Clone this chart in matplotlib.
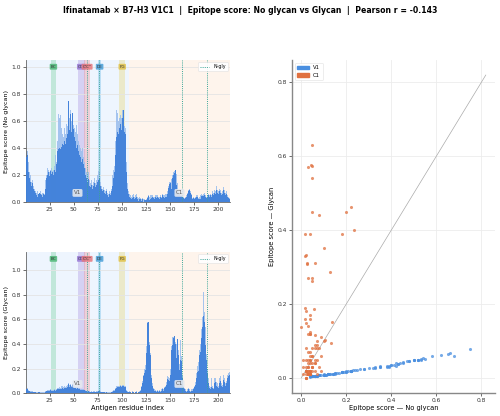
import numpy as np
import matplotlib
matplotlib.use("Agg")
import matplotlib.pyplot as plt
from matplotlib.patches import Patch

# ---------------- data ----------------
residues = list(range(1, 213))

# No glycan: per-residue score (dark) and peak score (light)
noglyc_score = [
    0.33, 0.35, 0.22, 0.18, 0.15, 0.12, 0.14, 0.10, 0.08, 0.07,
    0.05, 0.04, 0.06, 0.05, 0.07, 0.06, 0.05, 0.04, 0.06, 0.05,
    0.10, 0.18, 0.20, 0.22, 0.19, 0.23, 0.21, 0.22, 0.20, 0.24,
    0.22, 0.28, 0.38, 0.39, 0.40, 0.39, 0.41, 0.43, 0.42, 0.44,
    0.45, 0.43, 0.47, 0.50, 0.75, 0.53, 0.65, 0.52, 0.66, 0.54,
    0.48, 0.45, 0.40, 0.42, 0.38, 0.35, 0.33, 0.30, 0.32, 0.28,
    0.25, 0.20, 0.18, 0.15, 0.17, 0.12, 0.14, 0.11, 0.13, 0.10,
    0.12, 0.14, 0.11, 0.13, 0.15, 0.16, 0.18, 0.12, 0.10, 0.08,
    0.09, 0.07, 0.06, 0.08, 0.05, 0.04, 0.06, 0.05, 0.08, 0.12,
    0.18, 0.22, 0.26, 0.35, 0.48, 0.52, 0.50, 0.55, 0.58, 0.53,
    0.62, 0.68, 0.52, 0.50, 0.22, 0.10, 0.06, 0.04, 0.03, 0.02,
    0.03, 0.04, 0.02, 0.03, 0.04, 0.02, 0.01, 0.02, 0.02, 0.01,
    0.01, 0.02, 0.00, 0.015, 0.015, 0.015, 0.028, 0.043, 0.015, 0.025,
    0.03, 0.04, 0.03, 0.02, 0.04, 0.03, 0.04, 0.03, 0.02, 0.04,
    0.03, 0.05, 0.04, 0.03, 0.04, 0.05, 0.04, 0.06, 0.105, 0.133,
    0.138, 0.099, 0.18, 0.20, 0.219, 0.234, 0.126, 0.08, 0.06, 0.058,
    0.047, 0.046, 0.04, 0.03, 0.02, 0.03, 0.04, 0.06, 0.08, 0.09,
    0.07, 0.05, 0.03, 0.02, 0.03, 0.02, 0.03, 0.04, 0.04, 0.02,
    0.025, 0.02, 0.046, 0.046, 0.047, 0.05, 0.04, 0.03, 0.04, 0.05,
    0.04, 0.05, 0.04, 0.06, 0.05, 0.07, 0.06, 0.09, 0.10, 0.07,
    0.06, 0.08, 0.07, 0.05, 0.06, 0.09, 0.07, 0.05, 0.06, 0.04,
    0.03, 0.02,
]
noglyc_peak = [
    0.38, 0.38, 0.30, 0.22, 0.20, 0.15, 0.16, 0.12, 0.10, 0.08,
    0.07, 0.08, 0.06, 0.09, 0.07, 0.08, 0.06, 0.07, 0.07, 0.06,
    0.16, 0.20, 0.25, 0.24, 0.22, 0.24, 0.25, 0.23, 0.24, 0.27,
    0.35, 0.30, 0.45, 0.65, 0.62, 0.64, 0.55, 0.50, 0.48, 0.52,
    0.55, 0.50, 0.58, 0.56, 0.75, 0.62, 0.68, 0.60, 0.66, 0.57,
    0.55, 0.52, 0.57, 0.50, 0.45, 0.42, 0.40, 0.38, 0.40, 0.33,
    0.30, 0.25, 0.22, 0.20, 0.22, 0.16, 0.18, 0.14, 0.16, 0.13,
    0.15, 0.18, 0.14, 0.16, 0.20, 0.23, 0.22, 0.15, 0.12, 0.10,
    0.11, 0.09, 0.08, 0.10, 0.07, 0.06, 0.08, 0.07, 0.10, 0.20,
    0.24, 0.27, 0.30, 0.45, 0.68, 0.66, 0.60, 0.62, 0.64, 0.62,
    0.68, 0.68, 0.56, 0.55, 0.30, 0.14, 0.08, 0.06, 0.05, 0.04,
    0.05, 0.06, 0.04, 0.05, 0.06, 0.04, 0.03, 0.04, 0.03, 0.02,
    0.02, 0.03, 0.02, 0.02, 0.00, 0.02, 0.04, 0.05, 0.04, 0.05,
    0.05, 0.05, 0.04, 0.04, 0.05, 0.05, 0.05, 0.04, 0.04, 0.05,
    0.04, 0.06, 0.05, 0.05, 0.06, 0.06, 0.06, 0.08, 0.12, 0.15,
    0.15, 0.17, 0.20, 0.22, 0.23, 0.24, 0.21, 0.14, 0.08, 0.06,
    0.05, 0.05, 0.05, 0.04, 0.03, 0.04, 0.05, 0.07, 0.09, 0.10,
    0.08, 0.06, 0.04, 0.03, 0.04, 0.03, 0.04, 0.05, 0.05, 0.03,
    0.04, 0.05, 0.06, 0.05, 0.06, 0.07, 0.05, 0.04, 0.05, 0.06,
    0.05, 0.06, 0.05, 0.08, 0.07, 0.09, 0.08, 0.12, 0.13, 0.09,
    0.08, 0.10, 0.09, 0.07, 0.08, 0.11, 0.09, 0.07, 0.08, 0.05,
    0.04, 0.03,
]
# Glycan
glyc_score = [
    0.030, 0.033, 0.020, 0.015, 0.013, 0.010, 0.012, 0.008, 0.007, 0.006,
    0.005, 0.004, 0.006, 0.005, 0.006, 0.005, 0.004, 0.004, 0.005, 0.005,
    0.010, 0.015, 0.018, 0.020, 0.017, 0.022, 0.018, 0.020, 0.016, 0.022,
    0.020, 0.024, 0.030, 0.032, 0.034, 0.030, 0.036, 0.038, 0.033, 0.040,
    0.042, 0.038, 0.045, 0.050, 0.078, 0.052, 0.066, 0.050, 0.068, 0.053,
    0.045, 0.040, 0.035, 0.040, 0.033, 0.030, 0.028, 0.026, 0.028, 0.024,
    0.022, 0.017, 0.015, 0.012, 0.014, 0.010, 0.012, 0.009, 0.011, 0.008,
    0.010, 0.012, 0.009, 0.011, 0.013, 0.014, 0.016, 0.010, 0.008, 0.007,
    0.008, 0.006, 0.005, 0.007, 0.004, 0.003, 0.005, 0.004, 0.007, 0.010,
    0.016, 0.020, 0.023, 0.030, 0.045, 0.050, 0.048, 0.052, 0.060, 0.050,
    0.062, 0.060, 0.050, 0.048, 0.020, 0.009, 0.006, 0.010, 0.010, 0.000,
    0.010, 0.010, 0.000, 0.010, 0.010, 0.000, 0.010, 0.010, 0.020, 0.030,
    0.050, 0.080, 0.137, 0.160, 0.189, 0.330, 0.572, 0.577, 0.389, 0.309,
    0.120, 0.060, 0.030, 0.020, 0.020, 0.010, 0.020, 0.010, 0.020, 0.010,
    0.020, 0.030, 0.020, 0.040, 0.050, 0.040, 0.070, 0.115, 0.103, 0.095,
    0.151, 0.352, 0.390, 0.450, 0.464, 0.400, 0.288, 0.440, 0.310, 0.186,
    0.270, 0.262, 0.120, 0.050, 0.030, 0.020, 0.010, 0.020, 0.030, 0.020,
    0.010, 0.020, 0.010, 0.020, 0.030, 0.050, 0.070, 0.124, 0.170, 0.180,
    0.310, 0.334, 0.450, 0.540, 0.630, 0.575, 0.390, 0.270, 0.160, 0.080,
    0.040, 0.030, 0.050, 0.040, 0.030, 0.080, 0.090, 0.060, 0.100, 0.050,
    0.040, 0.080, 0.100, 0.060, 0.050, 0.110, 0.090, 0.060, 0.080, 0.120,
    0.140, 0.150,
]
glyc_peak = [
    0.035, 0.040, 0.025, 0.020, 0.018, 0.015, 0.016, 0.012, 0.010, 0.010,
    0.008, 0.008, 0.010, 0.008, 0.010, 0.008, 0.008, 0.007, 0.008, 0.008,
    0.015, 0.020, 0.025, 0.028, 0.022, 0.030, 0.025, 0.026, 0.022, 0.030,
    0.028, 0.032, 0.040, 0.045, 0.050, 0.042, 0.055, 0.060, 0.048, 0.058,
    0.060, 0.050, 0.062, 0.065, 0.080, 0.065, 0.072, 0.062, 0.075, 0.065,
    0.058, 0.050, 0.046, 0.050, 0.042, 0.040, 0.036, 0.034, 0.036, 0.030,
    0.028, 0.022, 0.020, 0.018, 0.020, 0.015, 0.016, 0.013, 0.015, 0.012,
    0.014, 0.016, 0.013, 0.016, 0.018, 0.020, 0.022, 0.015, 0.012, 0.010,
    0.012, 0.010, 0.008, 0.010, 0.007, 0.006, 0.008, 0.007, 0.010, 0.015,
    0.022, 0.028, 0.032, 0.040, 0.055, 0.060, 0.058, 0.062, 0.068, 0.060,
    0.070, 0.068, 0.060, 0.058, 0.028, 0.014, 0.010, 0.015, 0.012, 0.005,
    0.015, 0.012, 0.005, 0.012, 0.015, 0.005, 0.012, 0.015, 0.025, 0.040,
    0.060, 0.100, 0.150, 0.200, 0.230, 0.380, 0.575, 0.577, 0.420, 0.330,
    0.150, 0.080, 0.040, 0.030, 0.025, 0.015, 0.025, 0.015, 0.025, 0.015,
    0.030, 0.040, 0.030, 0.050, 0.060, 0.050, 0.090, 0.140, 0.130, 0.120,
    0.200, 0.380, 0.460, 0.460, 0.440, 0.420, 0.400, 0.440, 0.350, 0.240,
    0.430, 0.300, 0.150, 0.060, 0.040, 0.030, 0.015, 0.030, 0.040, 0.030,
    0.015, 0.030, 0.015, 0.030, 0.040, 0.060, 0.090, 0.160, 0.220, 0.250,
    0.350, 0.400, 0.520, 0.620, 0.820, 0.660, 0.540, 0.320, 0.200, 0.120,
    0.060, 0.050, 0.120, 0.060, 0.040, 0.120, 0.120, 0.090, 0.130, 0.080,
    0.060, 0.120, 0.140, 0.080, 0.070, 0.150, 0.120, 0.080, 0.100, 0.150,
    0.160, 0.170,
]

region_names = ["V1", "C1"]
region_ranges = [(1, 107), (108, 212)]
loop_names = ["BC", "CC'", "C'C''", "DE", "FG"]
loop_ranges = [(27, 31), (55, 61), (61, 67), (76, 78), (98, 103)]
nglyc_sites = [64, 76, 163, 189]

title = ("Ifinatamab \u00d7 B7-H3 V1C1  |  Epitope score: No glycan vs Glycan  |  "
         "Pearson r = -0.143")

# ---------------- style ----------------
dark_blue = "#3f80da"
light_blue = "#9cbfee"
region_bg = ["#eef5fe", "#fef4ec"]
loop_colors = ["#6fcf97", "#a98ee0", "#ec8a8f", "#62b6e6", "#e8d36a"]
loop_text_bg = ["#4fb878", "#9a7ad6", "#e5787e", "#4a9fd8", "#e0c24a"]
ngly_color = "#3aa597"
scatter_cols = ["#4a8fe0", "#e0703f"]

plt.rcParams['font.family'] = ['DejaVu Sans']

fig = plt.figure(figsize=(5.0, 4.16), dpi=100)
fig.suptitle(title, fontsize=5.6, fontweight='bold', y=0.985)

ax_top = fig.add_axes([0.052, 0.514, 0.408, 0.342])
ax_bot = fig.add_axes([0.052, 0.055, 0.408, 0.339])
ax_sc = fig.add_axes([0.584, 0.055, 0.406, 0.801])

x = np.array(residues)


def draw_bars(ax, score, peak, ylabel):
    score = np.array(score)
    peak = np.array(peak)
    ymax = max(peak.max(), score.max()) * 1.4
    for (a, b), c in zip(region_ranges, region_bg):
        ax.axvspan(a - 0.5, b + 0.5, color=c, zorder=0, lw=0)
    for (a, b), c in zip(loop_ranges, loop_colors):
        ax.axvspan(a - 0.5, b + 0.5, color=c, alpha=0.35, zorder=0.5, lw=0)
    ax.bar(x, peak, width=1.0, color=light_blue, alpha=0.9, lw=0, zorder=2)
    ax.bar(x, score, width=1.0, color=dark_blue, alpha=0.95, lw=0, zorder=3)
    for i, s in enumerate(nglyc_sites):
        ax.axvline(s, color=ngly_color, ls=(0, (1, 1.2)), lw=0.7, zorder=4,
                   label="N-gly" if i == 0 else None)
    for (a, b), name, c in zip(loop_ranges, loop_names, loop_text_bg):
        ax.text((a + b) / 2, ymax * 0.952, name, fontsize=3.0, ha='center',
                va='center', color='#333333', zorder=6,
                bbox=dict(boxstyle='round,pad=0.22', fc=c, ec='none', alpha=0.85))
    for (a, b), name in zip(region_ranges, region_names):
        ax.text((a + b) / 2, ymax * 0.065, name, fontsize=4, ha='center',
                va='center', color='#555555', zorder=6,
                bbox=dict(boxstyle='round,pad=0.25', fc='#e4e8ee', ec='none',
                          alpha=0.9))
    ax.set_xlim(0.5, 212.5)
    ax.set_ylim(0, ymax)
    ax.set_xticks([25, 50, 75, 100, 125, 150, 175, 200])
    ax.set_yticks([0.0, 0.2, 0.4, 0.6, 0.8, 1.0])
    ax.yaxis.grid(True, color='#e4e4e4', lw=0.6, zorder=1)
    ax.set_axisbelow(True)
    ax.tick_params(labelsize=4.3, length=2, width=0.5, pad=1.5, colors='#333333')
    ax.set_ylabel(ylabel, fontsize=4.6, labelpad=2)
    for sp in ['top', 'right']:
        ax.spines[sp].set_visible(False)
    for sp in ['left', 'bottom']:
        ax.spines[sp].set_color('#666666')
        ax.spines[sp].set_linewidth(0.6)
    leg = ax.legend(loc='upper right', fontsize=3.4, frameon=True,
                    handlelength=2.0, borderpad=0.4, framealpha=0.9,
                    edgecolor='#dddddd')
    leg.get_frame().set_linewidth(0.4)
    return ymax


draw_bars(ax_top, noglyc_score, noglyc_peak, "Epitope score (No glycan)")
draw_bars(ax_bot, glyc_score, glyc_peak, "Epitope score (Glycan)")
ax_bot.set_xlabel("Antigen residue index", fontsize=4.8, labelpad=1.5)

# ---------------- scatter ----------------
xs = np.array(noglyc_score)
ys = np.array(glyc_score)
for (a, b), name, c in zip(region_ranges, region_names, scatter_cols):
    sel = (x >= a) & (x <= b)
    ax_sc.scatter(xs[sel], ys[sel], s=5, color=c, alpha=0.75, lw=0, zorder=3)
m = max(np.max(noglyc_peak), np.max(glyc_peak))
ax_sc.plot([0, m], [0, m], color='#aaaaaa', lw=0.5, zorder=2)
ax_sc.set_xlim(-0.05 * m, 1.05 * m)
ax_sc.set_ylim(-0.05 * m, 1.05 * m)
ax_sc.set_xticks([0.0, 0.2, 0.4, 0.6, 0.8])
ax_sc.set_yticks([0.0, 0.2, 0.4, 0.6, 0.8])
ax_sc.grid(True, color='#ececec', lw=0.6, zorder=0)
ax_sc.set_axisbelow(True)
ax_sc.tick_params(labelsize=4.3, length=2, width=0.5, pad=1.5, colors='#333333')
ax_sc.set_xlabel("Epitope score \u2014 No glycan", fontsize=4.8, labelpad=1.5)
ax_sc.set_ylabel("Epitope score \u2014 Glycan", fontsize=4.8, labelpad=2)
for sp in ['top', 'right']:
    ax_sc.spines[sp].set_visible(False)
for sp in ['left', 'bottom']:
    ax_sc.spines[sp].set_color('#888888')
    ax_sc.spines[sp].set_linewidth(1.0)
handles = [Patch(color=c, label=n) for n, c in zip(region_names, scatter_cols)]
leg = ax_sc.legend(handles=handles, loc='upper left', fontsize=3.8,
                   frameon=True, handlelength=2.2, handleheight=0.6,
                   borderpad=0.5, framealpha=0.9, edgecolor='#dddddd')
leg.get_frame().set_linewidth(0.4)

fig.savefig("out.png", dpi=100)
